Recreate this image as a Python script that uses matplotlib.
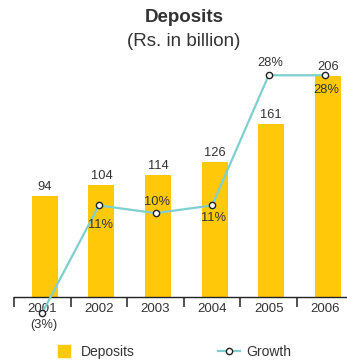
import matplotlib
matplotlib.use("Agg")
import matplotlib.pyplot as plt
from matplotlib.lines import Line2D

years = ["2001", "2002", "2003", "2004", "2005", "2006"]
deposits = [94, 104, 114, 126, 161, 206]
growth = [-3, 11, 10, 11, 28, 28]
growth_labels = ["(3%)", "11%", "10%", "11%", "28%", "28%"]
# vertical offset (points) of each growth label from its marker
growth_offset = [-4.5, -10, 6, -4.5, 6.5, -6]

BAR_COLOR = "#FFC90A"
LINE_COLOR = "#7ED0CE"
TEXT_COLOR = "#333333"

plt.rcParams["font.family"] = ["Liberation Sans", "DejaVu Sans"]
plt.rcParams["text.color"] = TEXT_COLOR


def main():
    fig = plt.figure(figsize=(3.47, 3.63), dpi=100)
    W, H = 347, 363
    # axes in pixel terms: baseline at y=297, top at y=60, left at x=14
    ax = fig.add_axes([14 / W, (H - 297) / H, 339.6 / W, 237 / H])
    ax2 = ax.twinx()

    x = list(range(len(years)))
    bar_x = [i + 0.045 for i in x]
    ax.bar(bar_x, deposits, width=0.46, color=BAR_COLOR, zorder=2)
    ax.set_ylim(0, 220.9)
    ax.set_xlim(-0.5, 5.5)

    for xi, v in zip(bar_x, deposits):
        ax.annotate(str(v), (xi, v), xytext=(0, 4.3), textcoords="offset points",
                    ha="center", va="baseline", fontsize=9.3, color=TEXT_COLOR)

    ax2.plot(x, growth, color=LINE_COLOR, linewidth=1.6, marker="o",
             markersize=4.5, markerfacecolor="white", markeredgecolor="#222222",
             markeredgewidth=1.0, clip_on=False, zorder=3)
    ax2.set_ylim(-0.953, 29.99)

    for xi, g, lab, off in zip(x, growth, growth_labels, growth_offset):
        ax2.annotate(lab, (xi, g), xytext=(1, off), textcoords="offset points",
                     ha="center", va="baseline" if off > 0 else "top",
                     fontsize=9.3, color=TEXT_COLOR, annotation_clip=False)

    for a in (ax, ax2):
        for s in ("top", "right", "left"):
            a.spines[s].set_visible(False)
        a.set_yticks([])
    ax2.spines["bottom"].set_visible(False)
    ax.spines["bottom"].set_color("#222222")
    ax.spines["bottom"].set_linewidth(1.0)

    ax.set_xticks(x)
    ax.set_xticklabels(years)
    ax.set_xticks([i - 0.5 for i in range(len(years) + 1)], minor=True)
    ax.tick_params(axis="x", which="major", length=0, pad=4, labelsize=9.5,
                   labelcolor=TEXT_COLOR)
    ax.tick_params(axis="x", which="minor", length=7.5, width=1.1,
                   color="#222222", direction="out")

    fig.text(184 / W, 1 - 17 / H, "Deposits", ha="center", va="center",
             fontsize=13.5, fontweight="bold", color=TEXT_COLOR)
    fig.text(184 / W, 1 - 41 / H, "(Rs. in billion)", ha="center", va="center",
             fontsize=13.5, color=TEXT_COLOR)

    handles = [
        Line2D([], [], marker="s", linestyle="none", color=BAR_COLOR, markersize=8),
        Line2D([], [], color=LINE_COLOR, linewidth=1.6, marker="o", markersize=4.5,
               markerfacecolor="white", markeredgecolor="#222222", markeredgewidth=1.0),
    ]
    fig.legend(handles, ["Deposits", "Growth"], loc="center",
               bbox_to_anchor=(172 / W, 1 - 352 / H), ncol=2, frameon=False,
               fontsize=10, handlelength=1.6, handletextpad=0.4, columnspacing=6.0,
               borderaxespad=0)

    fig.savefig("out.png", dpi=100)
    plt.close(fig)


if __name__ == "__main__":
    main()
